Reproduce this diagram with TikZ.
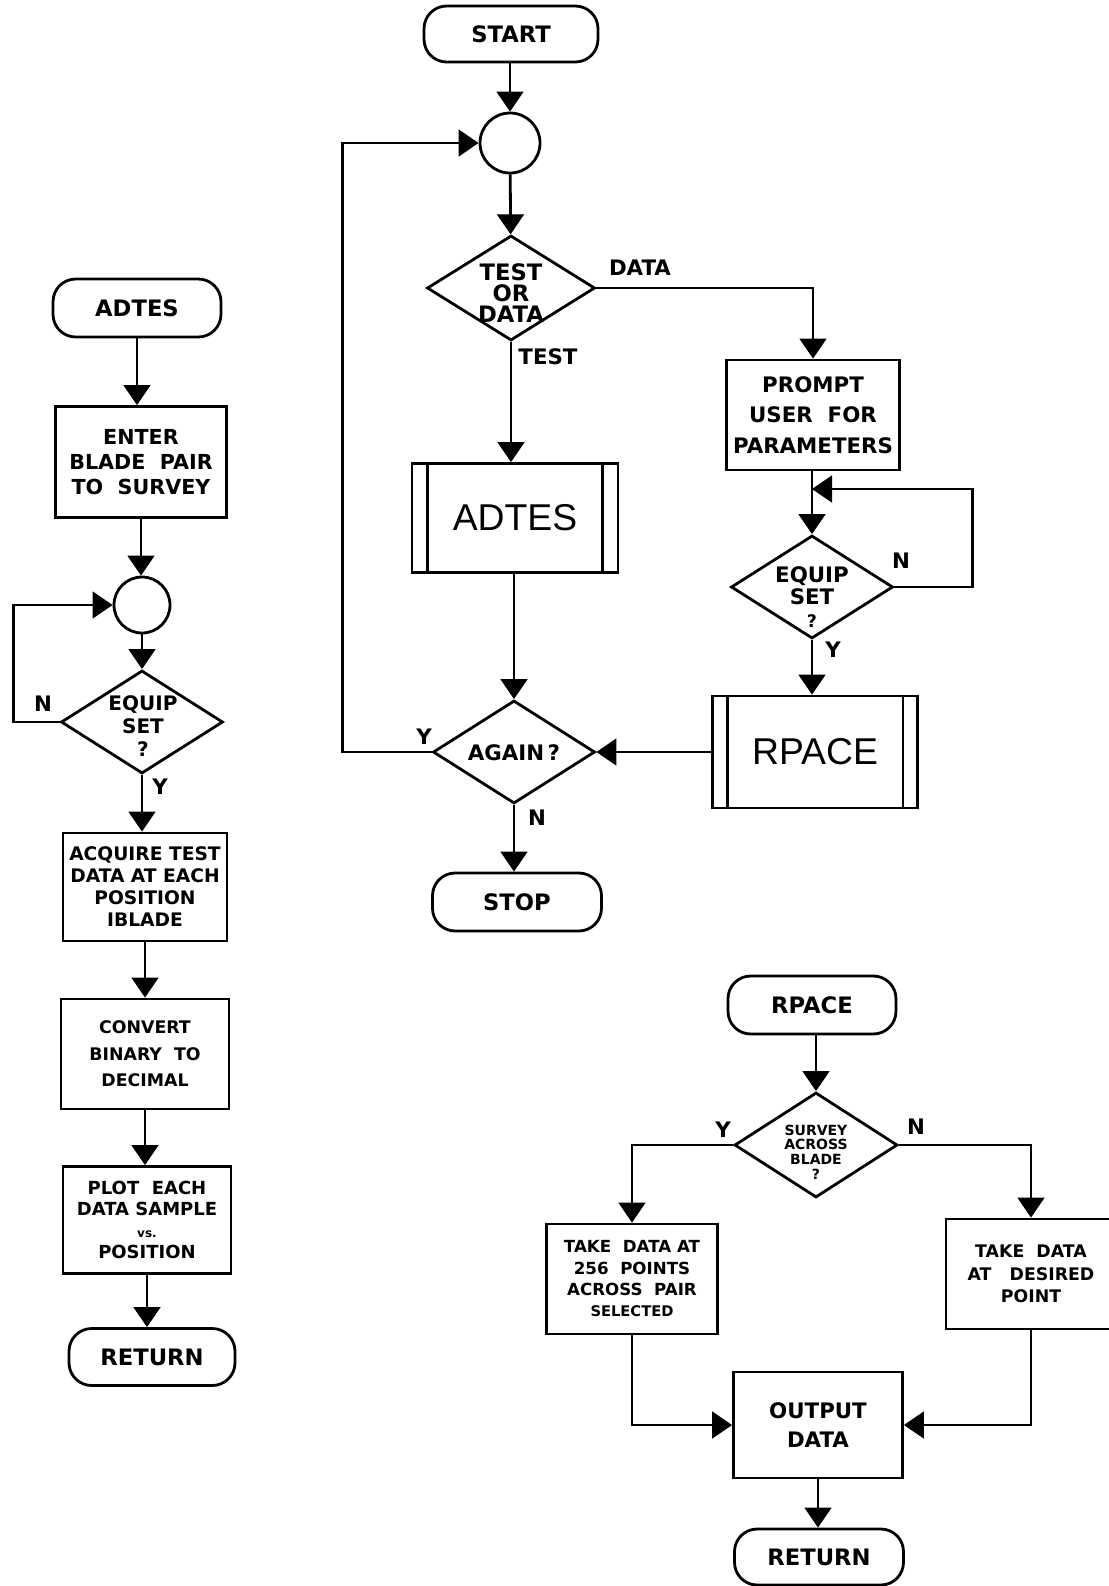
\documentclass[tikz,border=0pt]{standalone}
\usepackage{fontspec}
\setmainfont{DejaVu Sans}
\newfontfamily\thinfont{Liberation Sans}
\usetikzlibrary{arrows.meta,shapes.geometric}

\begin{document}
\begin{tikzpicture}[x=0.75pt,y=-0.75pt,
  every node/.style={font=\bfseries},
  ln/.style={line width=2.1pt},
  arr/.style={line width=2.1pt,-{Triangle[length=15pt,width=20pt]}},
  term/.style={draw,line width=2.1pt,rectangle,rounded corners=17pt,inner sep=0pt,font=\bfseries\fontsize{17}{20}\selectfont},
  procbox/.style={draw,line width=2.1pt,rectangle,inner sep=0pt,align=center},
  dia/.style={draw,line width=2.1pt,diamond,inner sep=0pt},
  circ/.style={draw,line width=2.1pt,circle,inner sep=0pt},
  subbox/.style={draw,line width=2.1pt,rectangle,inner sep=0pt,font=\thinfont\fontsize{28}{30}\selectfont},
  lab/.style={font=\bfseries\fontsize{16}{18}\selectfont,inner sep=0pt},
  dtext/.style={align=center,inner sep=0pt},
]
\useasboundingbox[fill=white] (0,0) rectangle (1109,1586);

% ---------------- main program (middle column) ----------------
\node[term,minimum width=130.5pt,minimum height=42pt] (start) at (511,34) {START};
\node[circ,minimum size=45pt] (c1) at (510,143) {};
\node[dia,minimum width=126pt,minimum height=78.75pt] (d1) at (511,288) {};
\node[dtext,font=\bfseries\fontsize{17}{16}\selectfont] (d1t) at (511,293) {TEST\\OR\\DATA};
\node[subbox,minimum width=154.5pt,minimum height=81.75pt] (adtes) at (515,518) {ADTES};
\node[dia,minimum width=121.5pt,minimum height=77.25pt] (again) at (514,752) {};
\node[dtext,font=\bfseries\fontsize{16}{18}\selectfont] (againt) at (514,753) {AGAIN\,?};
\node[term,minimum width=126.75pt,minimum height=43.5pt] (stop) at (517,902) {STOP};

\node[procbox,minimum width=129.75pt,minimum height=82.5pt,font=\bfseries\fontsize{16}{23}\selectfont] (prompt) at (813,415) {PROMPT\\USER\ \ FOR\\PARAMETERS};
\coordinate (j) at (812,489);
\node[dia,minimum width=121.5pt,minimum height=77.25pt] (d2) at (812,587) {};
\node[dtext,font=\bfseries\fontsize{16}{17}\selectfont] (d2t) at (812,597) {EQUIP\\SET\\{\fontsize{13}{13}\selectfont ?}};
\node[subbox,minimum width=153.75pt,minimum height=84pt] (rpace) at (815,752) {RPACE};

\draw[ln] ([xshift=12.75pt]adtes.north west) -- ([xshift=12.75pt]adtes.south west);
\draw[ln] ([xshift=-12.75pt]adtes.north east) -- ([xshift=-12.75pt]adtes.south east);
\draw[ln] ([xshift=12pt]rpace.north west) -- ([xshift=12pt]rpace.south west);
\draw[ln] ([xshift=-12pt]rpace.north east) -- ([xshift=-12pt]rpace.south east);

\draw[arr] (c1.north |- start.south) -- (c1.north);
\draw[arr] (c1) -- (d1);
\draw[arr] (d1.south) -- (d1.south |- adtes.north);
\draw[arr] (again.north |- adtes.south) -- (again.north);
\draw[arr] (again.south) -- (again.south |- stop.north);
\draw[arr] (again.west) -- ++(-89,0) |- (c1.west);
\draw[arr] (d1.east) -| (prompt.north);
\draw[arr] (d2.north |- prompt.south) -- (d2.north);
\draw[arr] (d2.east) -- ++(78,0) |- (j);
\draw[arr] (d2.south) -- (d2.south |- rpace.north);
\draw[arr] (rpace.west) -- (again.east);

\node[lab] (lData) at (640,268) {DATA};
\node[lab] (lTest) at (548,357) {TEST};
\node[lab] (lY1) at (424,737) {Y};
\node[lab] (lN1) at (537,818) {N};
\node[lab] (lN2) at (901,561) {N};
\node[lab] (lY2) at (833,650) {Y};

% ---------------- ADTES subroutine (left column) ----------------
\node[term,minimum width=126pt,minimum height=43.5pt] (adtesT) at (137,308) {ADTES};
\node[procbox,minimum width=128.25pt,minimum height=83.25pt,font=\bfseries\fontsize{15.5}{18.5}\selectfont] (enter) at (141,462) {ENTER\\BLADE\ \ PAIR\\TO\ \ SURVEY};
\node[circ,minimum size=42pt] (c2) at (142,605) {};
\node[dia,minimum width=121.5pt,minimum height=77.25pt] (d3) at (142,722) {};
\node[dtext,font=\bfseries\fontsize{15}{17}\selectfont] (d3t) at (143,726) {EQUIP\\SET\\?};
\node[procbox,minimum width=123pt,minimum height=81pt,font=\bfseries\fontsize{14}{16.5}\selectfont] (acquire) at (145,887) {ACQUIRE TEST\\DATA AT EACH\\POSITION\\IBLADE};
\node[procbox,minimum width=126pt,minimum height=82.5pt,font=\bfseries\fontsize{13}{20}\selectfont] (convert) at (145,1054) {CONVERT\\BINARY\ \ TO\\DECIMAL};
\node[procbox,minimum width=126pt,minimum height=80.25pt,font=\bfseries\fontsize{13.5}{16}\selectfont] (plot) at (147,1220) {PLOT\ \ EACH\\DATA SAMPLE\\{\fontsize{9}{10}\selectfont vs.}\\POSITION};
\node[term,minimum width=124.5pt,minimum height=42.75pt] (ret1) at (152,1357) {RETURN};

\draw[arr] (adtesT.south) -- (adtesT.south |- enter.north);
\draw[arr] (enter.south) -- (enter.south |- c2.north);
\draw[arr] (c2.south) -- (c2.south |- d3.north);
\draw[arr] (d3.south) -- (d3.south |- acquire.north);
\draw[arr] (acquire.south) -- (acquire.south |- convert.north);
\draw[arr] (convert.south) -- (convert.south |- plot.north);
\draw[arr] (plot.south) -- (plot.south |- ret1.north);
\draw[arr] (d3.west) -- ++(-46,0) |- (c2.west);

\node[lab] (lN3) at (43,704) {N};
\node[lab] (lY3) at (160,787) {Y};

% ---------------- RPACE subroutine (bottom right) ----------------
\node[term,minimum width=126pt,minimum height=43.5pt] (rpaceT) at (812,1005) {RPACE};
\node[dia,minimum width=122.25pt,minimum height=78.75pt] (d4) at (816,1145) {};
\node[dtext,font=\bfseries\fontsize{10.5}{11}\selectfont] (d4t) at (816,1152) {SURVEY\\ACROSS\\BLADE\\?};
\node[procbox,minimum width=128.25pt,minimum height=82.5pt,font=\bfseries\fontsize{12.5}{16}\selectfont] (take1) at (632,1279) {TAKE\ \ DATA AT\\256\ \ POINTS\\ACROSS\ \ PAIR\\{\fontsize{11}{12}\selectfont SELECTED}};
\node[procbox,minimum width=127.5pt,minimum height=82.5pt,font=\bfseries\fontsize{13}{17}\selectfont] (take2) at (1031,1274) {TAKE\ \ DATA\\AT\ \ \ DESIRED\\POINT};
\node[procbox,minimum width=126.75pt,minimum height=79.5pt,font=\bfseries\fontsize{16}{22}\selectfont] (output) at (818,1425) {OUTPUT\\DATA};
\node[term,minimum width=126.75pt,minimum height=42pt] (ret2) at (819,1557) {RETURN};

\draw[arr] (d4.north |- rpaceT.south) -- (d4.north);
\draw[arr] (d4.west) -| (take1.north);
\draw[arr] (d4.east) -| (take2.north);
\draw[arr] (take1.south) |- (output.west);
\draw[arr] (take2.south) |- (output.east);
\draw[arr] (output.south) -- (output.south |- ret2.north);

\node[lab] (lY4) at (723,1130) {Y};
\node[lab] (lN4) at (916,1127) {N};
\end{tikzpicture}
\end{document}
